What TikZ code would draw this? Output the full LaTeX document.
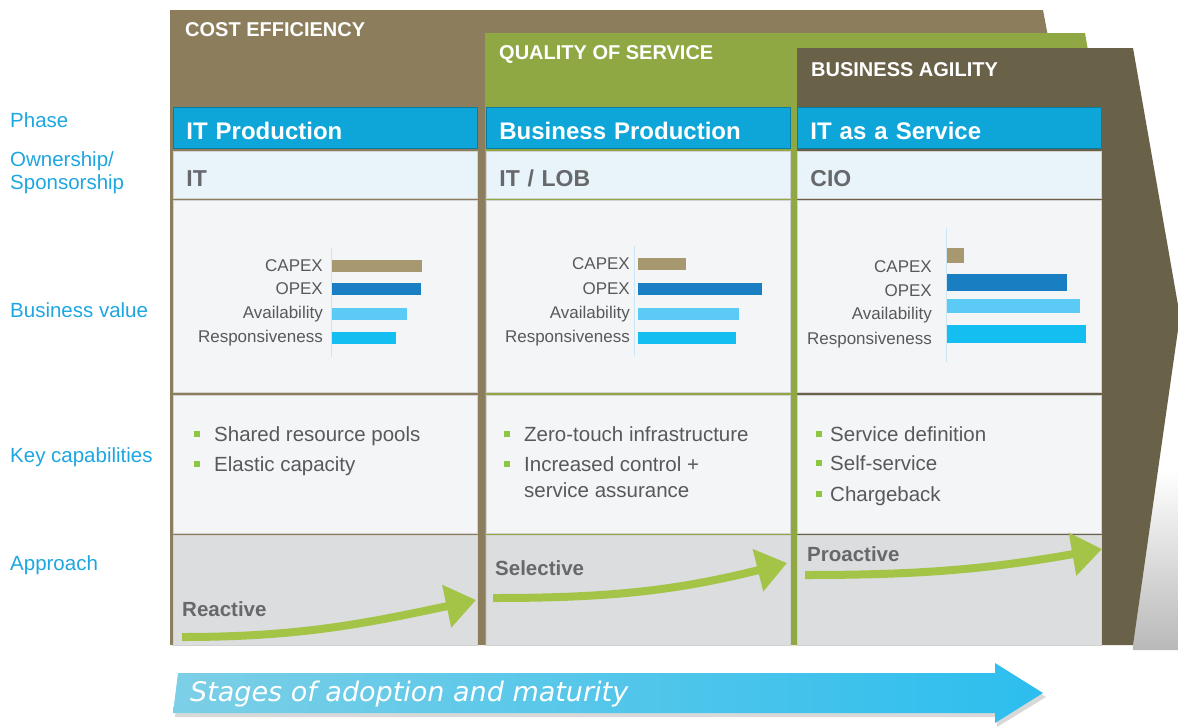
\documentclass[tikz,border=0pt]{standalone}
\usepackage{fontspec}
\setmainfont{Liberation Sans}
\newfontfamily\stagefont{DejaVu Sans}
\usetikzlibrary{arrows.meta}

\definecolor{costbrown}{HTML}{8C7E5C}
\definecolor{qosgreen}{HTML}{8FA843}
\definecolor{agiledark}{HTML}{6A6149}
\definecolor{phaseblue}{HTML}{0EA5D8}
\definecolor{ownblue}{HTML}{E8F4FA}
\definecolor{cellgray}{HTML}{F3F5F7}
\definecolor{appgray}{HTML}{DCDDDF}
\definecolor{rowlabel}{HTML}{1EA6E0}
\definecolor{arrowgreen}{HTML}{A4C448}
\definecolor{bulletgreen}{HTML}{8DC63F}
\definecolor{textgray}{HTML}{595959}
\definecolor{owngray}{HTML}{67686B}
\definecolor{capexc}{HTML}{A89870}
\definecolor{opexc}{HTML}{1A7EC2}
\definecolor{availc}{HTML}{5BCBF5}
\definecolor{respc}{HTML}{14BEF0}
\definecolor{axisblue}{HTML}{CBE7F5}
\definecolor{stageleft}{HTML}{7CCFE6}
\definecolor{stageright}{HTML}{2CBEEE}

\tikzset{
  bandtitle/.style={anchor=west,inner sep=0,text=white,font=\bfseries\fontsize{20}{22}\selectfont},
  rowlab/.style={anchor=west,inner sep=0,text=rowlabel,font=\fontsize{20.5}{23}\selectfont,align=left},
  cellbox/.style={anchor=north west,inner sep=0,minimum width=304,draw=gray!35,line width=0.8},
  phasebox/.style={cellbox,fill=phaseblue,draw=phaseblue!75!black,minimum height=41,
    inner xsep=13,text width=278,text height=24,text depth=0,align=left,text=white,
    font=\bfseries\fontsize{24}{26}\selectfont},
  ownbox/.style={cellbox,fill=ownblue,minimum height=47,
    inner xsep=13,text width=278,text height=24,text depth=0,align=left,text=owngray,
    font=\bfseries\fontsize{23}{25}\selectfont},
  barlab/.style={anchor=east,inner sep=0,text=textgray,font=\fontsize{17}{19}\selectfont},
  captext/.style={anchor=base west,inner sep=0,text=textgray,font=\fontsize{20.5}{23}\selectfont},
  bullet/.style={fill=bulletgreen,minimum size=6,inner sep=0},
  apptext/.style={anchor=base west,inner sep=0,text=owngray,font=\bfseries\fontsize{20.5}{22}\selectfont},
  greenarrow/.style={draw=arrowgreen,line width=8pt,-{Triangle[length=30pt,width=42pt]}}
}

\begin{document}
\begin{tikzpicture}[x=1pt,y=-1pt]
  \useasboundingbox (0,0) rectangle (1178,726);

  % bands behind the columns
  \fill[costbrown] (170,10) -- (1043,10) -- (1060,100) -- (1060,645) -- (170,645) -- cycle;
  \fill[qosgreen] (485,33) -- (1085,33) -- (1100,120) -- (1100,645) -- (485,645) -- cycle;
  \shade[top color=white,bottom color=gray!55] (1130,480) -- (1178,470) -- (1178,650) -- (1133,650) -- cycle;
  \fill[agiledark] (797,48) -- (1133,48) -- (1178,305) -- (1178,330) -- (1133,645) -- (797,645) -- cycle;

  \node[bandtitle] (cost) at (185,30) {COST EFFICIENCY};
  \node[bandtitle] (qos) at (499,54) {QUALITY OF SERVICE};
  \node[bandtitle] (agile) at (811,70) {BUSINESS AGILITY};

  % row labels
  \node[rowlab] (lphase) at (10,120) {Phase};
  \node[rowlab] (lown) at (10,173) {Ownership/\\Sponsorship};
  \node[rowlab] (lvalue) at (10,310) {Business value};
  \node[rowlab] (lcap) at (10,457) {Key capabilities};
  \node[rowlab] (lapp) at (10,565) {Approach};

  % columns
  \foreach \c/\x/\ph/\own in {1/173/IT Production/IT,2/486/Business Production/{IT / LOB},3/797/IT as a Service/CIO} {
    \node[phasebox] (ph\c) at (\x,107) {\ph};
    \node[ownbox] (own\c) at (\x,151) {\own};
    \node[cellbox,fill=cellgray,minimum height=192] (val\c) at (\x,200) {};
    \node[cellbox,fill=cellgray,minimum height=138] (cap\c) at (\x,395) {};
    \node[cellbox,fill=appgray,minimum height=110] (app\c) at (\x,535) {};
  }

  % business value bars
  \draw[axisblue,line width=1] (331,248) -- (331,357);
  \foreach \lab/\y/\len/\col in {CAPEX/266/90/capexc,OPEX/289/89/opexc,Availability/314/75/availc,Responsiveness/338/64/respc} {
    \node[barlab] (a\lab) at (323,\y) {\lab};
    \fill[\col] (332,\y-6) rectangle +(\len,12);
  }
  \draw[axisblue,line width=1] (634,246) -- (634,356);
  \foreach \lab/\y/\len/\col in {CAPEX/264/48/capexc,OPEX/289/124/opexc,Availability/314/101/availc,Responsiveness/338/98/respc} {
    \node[barlab] (b\lab) at (630,\y) {\lab};
    \fill[\col] (638,\y-6) rectangle +(\len,12);
  }
  \draw[axisblue,line width=1] (946,228) -- (946,362);
  \foreach \lab/\y/\by/\bh/\len/\col in {CAPEX/267/248/15/17/capexc,OPEX/291/274/17/120/opexc,Availability/315/299/14/133/availc,Responsiveness/340/325/18/139/respc} {
    \node[barlab] (c\lab) at (932,\y) {\lab};
    \fill[\col] (947,\by) rectangle +(\len,\bh);
  }

  % key capabilities
  \foreach \t/\y in {Shared resource pools/441,Elastic capacity/471} {
    \node[bullet] at (197,\y-7) {};
    \node[captext] at (214,\y) {\t};
  }
  \foreach \t/\y in {Zero-touch infrastructure/441,Increased control +/471} {
    \node[bullet] at (507,\y-7) {};
    \node[captext] at (524,\y) {\t};
  }
  \node[captext] (assure) at (524,497) {service assurance};
  \foreach \t/\y in {Service definition/441,Self-service/470,Chargeback/501} {
    \node[bullet] at (819,\y-7) {};
    \node[captext] at (830,\y) {\t};
  }

  % approach
  \node[apptext] (reactive) at (182,616) {Reactive};
  \node[apptext] (selective) at (495,575) {Selective};
  \node[apptext] (proactive) at (807,561) {Proactive};
  \coordinate (r0) at (182,637);
  \coordinate (r1) at (476,600);
  \coordinate (s0) at (493,598);
  \coordinate (s1) at (787,563);
  \coordinate (p0) at (805,575);
  \coordinate (p1) at (1102,549);
  \draw[greenarrow] (r0) to[out=0,in=192] (r1);
  \draw[greenarrow] (s0) to[out=0,in=194] (s1);
  \draw[greenarrow] (p0) to[out=0,in=190] (p1);

  % stages arrow
  \fill[gray!60,opacity=0.5] (180,677) -- (997,677) -- (997,667) -- (1046,697) -- (997,727) -- (997,717) -- (175,717) -- cycle;
  \shade[left color=stageleft,right color=stageright]
    (178,673) -- (995,673) -- (995,663) -- (1043,693) -- (995,723) -- (995,713) -- (173,713) -- cycle;
  \node[anchor=west,inner sep=0,text=white,font=\stagefont\itshape\fontsize{27}{30}\selectfont] (stages) at (190,694) {Stages of adoption and maturity};
\end{tikzpicture}
\end{document}
